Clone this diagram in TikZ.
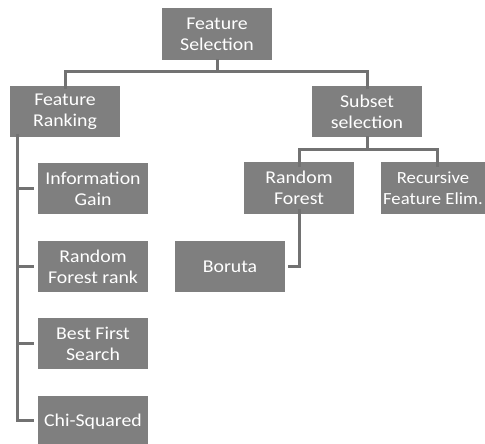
\documentclass[tikz,border=0pt]{standalone}
\usepackage{fontspec}
\setmainfont{Carlito}[FakeStretch=1.1]
\definecolor{boxgray}{HTML}{7F7F7F}
\definecolor{linegray}{HTML}{727272}
\begin{document}
\begin{tikzpicture}[x=1pt,y=-1pt,
  box/.style={rectangle, fill=boxgray, text=white, minimum width=110pt, minimum height=51pt, inner sep=0pt, align=center, font=\fontsize{18}{21}\selectfont},
  conn/.style={draw=linegray, line width=3pt, line cap=rect}]
\useasboundingbox (0,0) rectangle (485,444);
\node[box, minimum height=52pt] (fs) at (217,34.5) {Feature\\Selection};
\node[box] (fr) at (65,111.5) {Feature\\Ranking};
\node[box] (ss) at (367,111.5) {Subset\\selection};
\node[box, minimum height=52pt] (rf) at (299,188) {Random\\Forest};
\node[box, minimum height=52pt, minimum width=104pt, font=\fontsize{17}{21}\selectfont] (rfe) at (433,188) {Recursive\\Feature Elim.};
\node[box] (ig) at (93,188.5) {Information\\Gain};
\node[box] (rfr) at (93,266.5) {Random\\Forest rank};
\node[box] (bfs) at (93,343.5) {Best First\\Search};
\node[box] (cs) at (93,421.5) {Chi-Squared};
\node[box] (bo) at (230,266.5) {Boruta};
% top tree
\coordinate (bus1) at (217,72);
\draw[conn] (fs.south) -- (bus1);
\draw[conn] ([yshift=-1.5pt]fr.north) |- (bus1) -| ([yshift=-1.5pt]ss.north);
% subset tree
\coordinate (bus2) at (367,149);
\draw[conn] (ss.south) -- (bus2);
\draw[conn] ([yshift=-4pt]rf.north) |- (bus2) -| ([xshift=4pt,yshift=-4pt]rfe.north);
% random forest to boruta
\draw[conn] ([yshift=4pt]rf.south) |- ([xshift=4pt]bo.east);
% ranking trunk
\coordinate (trunk) at ([xshift=8pt,yshift=2pt]fr.south west);
\draw[conn] (trunk) |- ([xshift=-5pt,yshift=1.5pt]cs.west);
\draw[conn] (trunk |- ig.west) -- ([xshift=-5pt]ig.west);
\draw[conn] (trunk |- rfr.west) -- ([xshift=-5pt]rfr.west);
\draw[conn] (trunk |- bfs.west) -- ([xshift=-5pt]bfs.west);
\end{tikzpicture}
\end{document}
